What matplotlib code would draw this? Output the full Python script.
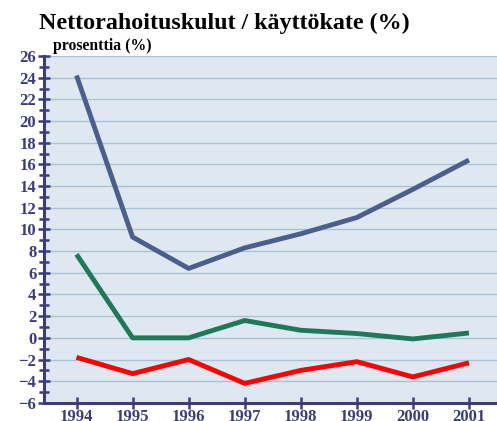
import numpy as np
import matplotlib.pyplot as plt

years = [1994, 1995, 1996, 1997, 1998, 1999, 2000, 2001]
blue_vals = [24.2, 9.3, 6.4, 8.3, 9.6, 11.1, 13.7, 16.4]
green_vals = [7.7, 0.0, 0.0, 1.6, 0.7, 0.4, -0.1, 0.45]
red_vals = [-1.8, -3.3, -2.0, -4.2, -3.0, -2.2, -3.6, -2.3]
yticks = list(range(-6, 27, 2))

navy = '#3b3b7e'
plt.rcParams['font.family'] = ['Liberation Serif', 'DejaVu Serif']

fig = plt.figure(figsize=(4.97, 4.21), dpi=100)
ax = fig.add_axes([0.0885, 0.043, 0.9115, 0.824])
ax.set_facecolor('#dfe8f0')

for y in yticks:
    ax.axhline(y, color='#a9c3d6', lw=1.0, zorder=1)

ax.plot(years, blue_vals, color='#4b5f8c', lw=3.5, zorder=3, solid_capstyle='butt')
ax.plot(years, green_vals, color='#1e7a56', lw=3.5, zorder=3, solid_capstyle='butt')
ax.plot(years, red_vals, color='#ff0000', lw=3.5, zorder=3, solid_capstyle='butt')

ax.set_xlim(1993.42, 2001.5)
ax.set_ylim(-6, 26)
ax.set_yticks(yticks)
ax.set_yticks(range(-6, 27), minor=True)
ax.set_xticks(years)

for s in ['top', 'right']:
    ax.spines[s].set_visible(False)
for s in ['left', 'bottom']:
    ax.spines[s].set_color(navy)
    ax.spines[s].set_linewidth(2.2)

ax.tick_params(axis='both', which='both', direction='inout', color=navy, width=1.8)
ax.tick_params(axis='y', which='major', length=9, labelsize=12, labelcolor=navy, pad=1)
ax.tick_params(axis='y', which='minor', length=7)
ax.tick_params(axis='x', which='major', length=9, labelsize=12, labelcolor=navy, pad=0)
for lab in ax.get_xticklabels() + ax.get_yticklabels():
    lab.set_fontweight('bold')
ax.set_yticklabels([str(v).replace('-', '\u2212') for v in yticks])

fig.text(0.451, 0.945, 'Nettorahoituskulut / käyttökate (%)', ha='center', va='center',
         fontsize=17.3, fontweight='bold')
fig.text(0.107, 0.89, 'prosenttia (%)', ha='left', va='center',
         fontsize=11.3, fontweight='bold')

fig.savefig('out.png', dpi=100)
